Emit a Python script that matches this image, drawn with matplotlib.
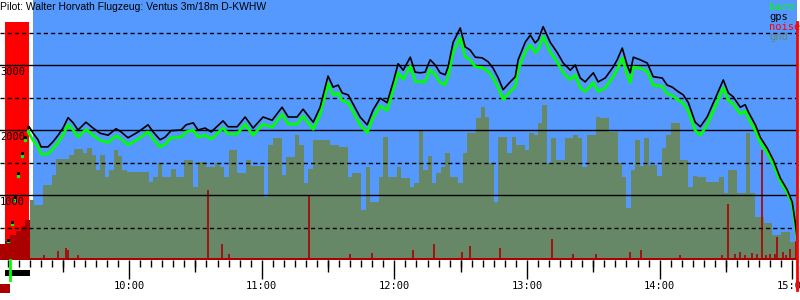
import numpy as np
import matplotlib
matplotlib.use("Agg")
import matplotlib.pyplot as plt
from matplotlib.patches import Rectangle
from matplotlib.ticker import FixedLocator, MultipleLocator, FuncFormatter

title = "Pilot: Walter Horvath Flugzeug: Ventus 3m/18m D-KWHW"

# times are minutes after midnight, altitudes in metres
flight_t = [554.8, 556.6, 558.8, 560.2, 563.3, 565.6, 567.9, 570.1, 572.4, 574.7,
            576.9, 580.5, 583.7, 586.9, 590.5, 594.1, 596.4, 599.5, 604.1, 608.6,
            610.9, 614.0, 616.3, 619.0, 623.5, 625.8, 629.0, 631.2, 634.4, 637.1,
            642.5, 644.8, 648.9, 652.5, 656.1, 660.6, 664.7, 669.2, 672.0, 676.0,
            678.7, 683.3, 686.4, 690.0, 692.3, 694.6, 696.4, 699.1, 702.3, 704.5,
            707.7, 710.4, 713.6, 716.7, 719.5, 721.7, 724.0, 727.2, 729.4, 731.7,
            733.9, 736.2, 738.5, 740.7, 743.0, 744.3, 746.6, 749.8, 752.0, 754.3,
            756.6, 759.7, 762.4, 764.7, 767.0, 769.2, 772.4, 774.7, 776.0, 779.2,
            781.5, 783.7, 785.1, 787.3, 790.5, 793.7, 796.4, 799.6, 801.8, 804.1,
            806.3, 810.0, 812.2, 815.4, 819.0, 820.8, 823.1, 825.3, 826.7, 828.1,
            831.2, 834.4, 837.1, 841.2, 843.4, 845.7, 848.4, 850.7, 853.0, 856.1,
            858.4, 861.5, 865.2, 868.8, 871.1, 873.3, 876.5, 878.7, 880.1, 883.3,
            885.5, 888.7, 891.4, 894.6, 897.7, 900.0, 901.4, 902.3]

gps_alt = [2050, 1950, 1850, 1740, 1740, 1820, 1920, 2030, 2190, 2110,
           2000, 2120, 2030, 1950, 1920, 2020, 1970, 1880, 1970, 2080,
           1970, 1850, 1890, 1990, 2000, 2080, 2110, 2000, 2030, 1970,
           2140, 2050, 2050, 2200, 2030, 2200, 2150, 2350, 2200, 2200,
           2320, 2120, 2350, 2830, 2660, 2690, 2570, 2540, 2340, 2200,
           2080, 2310, 2490, 2420, 2740, 3020, 2920, 3120, 2890, 2880,
           2890, 3080, 3000, 2880, 2850, 2970, 3350, 3570, 3280, 3230,
           3120, 3110, 3050, 2950, 2800, 2620, 2740, 2820, 3080, 3350,
           3460, 3340, 3390, 3590, 3350, 3190, 3030, 2920, 3000, 2800,
           2740, 2880, 2740, 2800, 2970, 3080, 3260, 3000, 2880, 3120,
           3080, 3030, 2820, 2800, 2690, 2660, 2590, 2540, 2420, 2120,
           2050, 2200, 2490, 2770, 2570, 2510, 2350, 2390, 2280, 2080,
           1890, 1720, 1540, 1260, 1080, 890, 570, 310]

baro_alt = [1940, 1840, 1740, 1630, 1630, 1710, 1810, 1920, 2080, 2000,
            1890, 2010, 1920, 1840, 1810, 1910, 1860, 1770, 1860, 1970,
            1860, 1740, 1780, 1880, 1890, 1970, 2000, 1890, 1920, 1860,
            2030, 1940, 1940, 2090, 1920, 2090, 2040, 2240, 2090, 2090,
            2210, 2010, 2240, 2710, 2540, 2570, 2450, 2420, 2220, 2080,
            1960, 2190, 2370, 2300, 2620, 2880, 2780, 2980, 2750, 2740,
            2740, 2930, 2850, 2730, 2700, 2820, 3200, 3420, 3130, 3080,
            2970, 2960, 2900, 2800, 2650, 2470, 2590, 2670, 2930, 3200,
            3310, 3190, 3240, 3440, 3200, 3040, 2880, 2770, 2850, 2650,
            2590, 2730, 2590, 2650, 2820, 2930, 3110, 2850, 2730, 2970,
            2950, 2900, 2690, 2670, 2560, 2530, 2460, 2410, 2290, 1990,
            1920, 2080, 2370, 2650, 2450, 2400, 2250, 2290, 2180, 1990,
            1810, 1650, 1480, 1210, 1040, 860, 540, 290]

# aerotow climb before the release
tow_t = [545.2, 547.1, 548.4, 549.8, 551.6, 552.9, 554.3]
tow_gps = [310, 590, 970, 1340, 1650, 1890, 2050]
tow_baro = [290, 560, 930, 1300, 1600, 1850, 1990]

# ground elevation, one value every 2 minutes
gnd_start, gnd_step = 555, 2
gnd_alt = [920, 850, 850, 1150, 1150, 1310, 1550, 1550, 1550, 1620,
           1710, 1710, 1650, 1720, 1620, 1380, 1620, 1280, 1380, 1690,
           1600, 1380, 1350, 1350, 1350, 1350, 1350, 1200, 1280, 1490,
           1280, 1280, 1400, 1280, 1280, 1540, 1540, 1120, 1510, 1510,
           1430, 1430, 1490, 1430, 1280, 1690, 1690, 1340, 1340, 1540,
           1450, 1450, 1450, 970, 1770, 1880, 1880, 1310, 1590, 1590,
           1920, 1770, 1180, 1400, 1850, 1850, 1850, 1850, 1770, 1770,
           1740, 1740, 1280, 1340, 1340, 770, 1430, 890, 890, 1280,
           1890, 1280, 1280, 1430, 1260, 1260, 1120, 1180, 2000, 1380,
           1600, 1180, 1340, 1430, 1650, 1280, 1280, 1180, 1650, 1950,
           1950, 2180, 2350, 2200, 1490, 890, 1890, 1890, 1650, 1890,
           1770, 1770, 1690, 1960, 1920, 2110, 2380, 1490, 1880, 1540,
           1540, 1880, 1880, 1920, 1880, 1430, 1920, 1920, 2200, 2180,
           2180, 1970, 1970, 1490, 1280, 800, 1380, 1850, 1450, 1880,
           1460, 1460, 1300, 1720, 1920, 2110, 2110, 1540, 1540, 1120,
           1300, 1280, 1280, 1200, 1200, 1200, 1280, 1030, 1380, 1380,
           1030, 1030, 1950, 1030, 660, 660, 570, 570, 390, 390,
           430, 430, 280]

# engine noise level (drawn on the altitude scale)
noise_t = [561.5, 567.9, 571.5, 572.4, 576.9, 635.7, 642.1, 645.3, 681.5, 700.0,
           710.0, 728.5, 738.0, 750.7, 754.3, 767.9, 791.4, 800.9, 811.3, 826.7,
           831.7, 849.3, 868.0, 871.0, 874.2, 876.5, 878.5, 881.9, 884.0, 886.4,
           888.0, 890.1, 892.0, 893.2, 895.9, 897.0, 899.1, 901.5]
noise_v = [80, 140, 190, 150, 80, 1080, 250, 90, 1000, 90,
           110, 150, 250, 120, 220, 190, 320, 90, 90, 120,
           150, 80, 70, 860, 90, 120, 80, 110, 90, 1690,
           70, 90, 100, 350, 120, 80, 170, 300]
noise_floor = 30
pre_noise_t = [541.6, 543.9, 546.0, 549.0, 551.0, 553.0, 555.3]
pre_noise_v = [250, 300, 380, 450, 520, 620, 620]

sky_start, sky_end = 556.6, 902.3
engine_start, engine_end = 543.9, 554.8

hours = [600, 660, 720, 780, 840, 900]

BLUE = "#5599ff"
GND = "#668866"
DARKRED = "#aa0000"
MONO = "DejaVu Sans Mono"

fig = plt.figure(figsize=(8, 3), dpi=100)
ax = fig.add_axes([0, 40 / 300, 798 / 800, 260 / 300])
ax.set_xlim(541.6, 902.6)
ax.set_ylim(0, 4000)
ax.set_facecolor("white")
for s in ax.spines.values():
    s.set_visible(False)

ax.axvspan(sky_start, sky_end, color=BLUE, lw=0, zorder=0)
ax.axvspan(engine_start, engine_end, ymax=0.915, color="#ff0000", lw=0, zorder=0.5)

# ground
gx = gnd_start + gnd_step * np.arange(len(gnd_alt))
gx = np.append(gx, sky_end)
gy = np.append(gnd_alt, gnd_alt[-1])
ax.fill_between(gx, 0, gy, step="post", color=GND, lw=0, zorder=1)

# noise
ax.fill_between(pre_noise_t, 0, pre_noise_v, step="post", color=DARKRED, lw=0, zorder=2)
ax.vlines(noise_t, 0, noise_v, colors=DARKRED, lw=1.2, zorder=2)
ax.axhspan(0, noise_floor, color=DARKRED, lw=0, zorder=2)

# altitude grid
for alt in [1000, 2000, 3000]:
    ax.axhline(alt, color="black", lw=1.0, zorder=3)
for alt in [500, 1500, 2500, 3500]:
    ax.axhline(alt, color="black", lw=1.0, dashes=(3, 2.2), zorder=3)
for alt in [1000, 2000, 3000]:
    ax.text(0.0, alt - 35, str(alt), transform=ax.get_yaxis_transform(),
            ha="left", va="top", fontsize=7.5, family=MONO, zorder=6)

# tracks
ax.plot(tow_t, tow_baro, ls="none", marker="s", ms=1.4, color="#00ff00", zorder=4)
ax.plot(tow_t, tow_gps, ls="none", marker="s", ms=1.2, color="black", zorder=5)
ax.plot(flight_t, baro_alt, color="#00ff00", lw=2.0, zorder=4)
ax.plot(flight_t, gps_alt, color="black", lw=1.2, zorder=5)

# right edge marker
ax.plot([sky_end, sky_end], [3660, -460], color="#ff0000", lw=2, clip_on=False, zorder=7)

# time axis
ax.xaxis.set_major_locator(FixedLocator(hours))
ax.xaxis.set_minor_locator(MultipleLocator(5))
ax.xaxis.set_major_formatter(FuncFormatter(lambda v, p: "%d:%02d" % (v // 60, v % 60)))
ax.tick_params(axis="x", which="major", length=13.5, width=1, pad=1.5,
               labelsize=7.5, color="black")
ax.tick_params(axis="x", which="minor", length=5, width=1, color="black")
for lab in ax.get_xticklabels():
    lab.set_family(MONO)
ax.set_yticks([])

sec = ax.secondary_xaxis("bottom")
sec.xaxis.set_major_locator(FixedLocator([570 + 60 * k for k in range(6)]))
sec.tick_params(length=8.5, width=1, labelbottom=False, color="black")
for s in sec.spines.values():
    s.set_visible(False)

# markers under the axis
ax.add_patch(Rectangle((engine_start, -250), engine_end - engine_start + 0.4, 100,
                       color="black", clip_on=False, lw=0))
ax.plot([546.0, 546.0], [0, -310], color="#00ff00", lw=2, clip_on=False)
ax.add_patch(Rectangle((541.6, -510), 4.6, 140, color=DARKRED, clip_on=False, lw=0))

fig.text(0.0, 1 - 10.5 / 300, title, ha="left", va="baseline",
         fontsize=7.5, family="Liberation Sans")

legend = [("baro", "#00ff00"), ("gps", "black"), ("noise", "#ff0000"), ("gnd", GND)]
for i, (name, col) in enumerate(legend):
    fig.text(769 / 800, 1 - (7 + 10 * i) / 300, name, color=col, ha="left",
             va="center", fontsize=7.5, family=MONO)

fig.savefig("out.png", dpi=100)
